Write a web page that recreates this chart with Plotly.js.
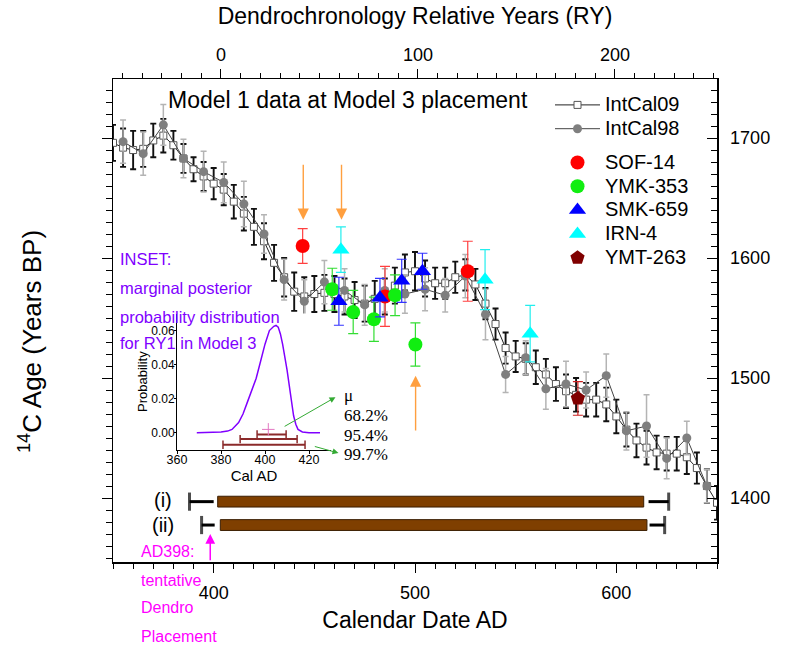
<!DOCTYPE html>
<html><head><meta charset="utf-8">
<script src="https://cdn.plot.ly/plotly-3.0.1.min.js"></script>
<style>html,body{margin:0;padding:0;background:#fff}#chart{width:794px;height:650px}</style>
</head><body><div id="chart"></div>
<script>
// ---------- IntCal09 (5-yr grid) ----------
const intcal09AD = [350,355,360,365,370,375,380,385,390,395,400,405,410,415,420,425,430,435,440,445,450,455,460,465,470,475,480,485,490,495,500,505,510,515,520,525,530,535,540,545,550,555,560,565,570,575,580,585,590,595,600,605,610,615,620,625,630,635,640,645,650];
const intcal09BP = [1696,1692,1690,1691,1698,1702,1694,1683,1674,1668,1662,1657,1647,1637,1626,1614,1596,1584,1572,1568,1570,1571,1570,1568,1565,1562,1566,1568,1577,1588,1589,1583,1579,1579,1584,1586,1578,1562,1545,1525,1518,1516,1509,1503,1495,1489,1486,1482,1482,1478,1468,1457,1448,1442,1438,1437,1437,1434,1425,1410,1396];
const intcal09Err = [15,16,16,15,14,14,12,12,10,12,13,13,14,14,15,15,15,16,16,16,15,15,15,15,15,15,15,15,15,15,16,15,13,13,13,13,13,13,13,13,13,13,14,13,14,14,14,14,14,14,14,14,14,14,14,14,14,14,13,14,14];
// ---------- IntCal98 (decadal) ----------
const intcal98AD = [355,365,375,385,395,405,415,425,435,445,455,465,475,485,495,505,515,525,535,545,555,565,575,585,595,605,615,625,635,645];
const intcal98BP = [1697,1687,1711,1683,1672,1663,1645,1620,1582,1564,1580,1573,1561,1573,1570,1574,1569,1585,1553,1503,1517,1491,1495,1490,1502,1456,1460,1433,1450,1410];
const intcal98Err = [18,18,17,16,17,17,19,16,17,18,18,18,17,18,16,18,14,18,21,15,14,17,19,15,18,16,26,17,14,14];
// ---------- samples ----------
const sofAD = [444.2,485.1,526.2];           const sofBP = [1610,1568,1589];  const sofErr = [14.5,25,25];
const ymkAD = [458.9,469.3,479.6,490.1,500.2]; const ymkBP = [1574,1555,1549,1569,1528]; const ymkErr = [17.5,18,18.5,17,18];
const smkAD = [462.2,482.6,493.4,503.7];     const smkBP = [1564,1567,1581,1589]; const smkErr = [20,16,18,15];
const irnAD = [463.2,534.8,557.2];           const irnBP = [1607,1582,1537]; const irnErr = [19,25,23.5];
const ymtAD = [580.9];                       const ymtBP = [1483]; const ymtErr = [14];
// ---------- placement bars (i), (ii) ----------
const placeLabels = ['(i)','(ii)'];
const placeBP = [1397,1377.5];
const placeStart = [402,403.3];
const placeEnd = [613.6,615.2];
const whiskLoOuter = [388,394];
const whiskLoInner = [400,400.5];
const whiskHiInner = [616,616.5];
const whiskHiOuter = [626,624];
// ---------- inset: marginal posterior for RY1 ----------
const postAD =   [369,375,380,383,385,388,390,392,394,396,398,400,402,404,405,406,407,408,410,412,413,414,415,417,420,425];
const postProb = [0,0.0002,0.0005,0.001,0.002,0.006,0.011,0.018,0.025,0.032,0.042,0.052,0.060,0.0625,0.063,0.062,0.058,0.052,0.037,0.018,0.010,0.005,0.002,0.0005,0.0001,0];
const ciLabels = ['68.2%','95.4%','99.7%'];
const ciLo = [396.4,388.7,380.9];
const ciHi = [409.6,414.6,418.2];
const ciY = [-0.001,-0.0037,-0.007];
const meanAD = [401.5]; const meanY = [0.002];
// ---------- arrows (AD, BP) ----------
const orangeX = [444.5,463.5,500.3];
const orangeHeadY = [1632,1632,1502];
const orangeTailY = [1679,1679,1455];
// top (RY) axis range as drawn
const ryRange = [-54.8, 251.8];

const FONT = 'Liberation Sans, Arial, sans-serif';
const L = 113, T = 79, W = 604, H = 483;
const px = x => (x - L) / W;
const py = y => (T + H - y) / H;
const big = s => '<span style="font-size:20px">' + s + '</span>';

const traces = [];
traces.push({x:intcal09AD, y:intcal09BP, name:big('IntCal09'), type:'scatter', mode:'lines+markers',
  legendgroup:'cal', line:{color:'#222', width:1},
  marker:{symbol:'square', size:7, color:'#fff', line:{color:'#555', width:1}},
  error_y:{type:'data', array:intcal09Err, color:'#111', thickness:1.9, width:3}});
traces.push({x:intcal98AD, y:intcal98BP, name:big('IntCal98'), type:'scatter', mode:'lines+markers',
  legendgroup:'cal', line:{color:'#444', width:1},
  marker:{symbol:'circle', size:9, color:'#7f7f7f'},
  error_y:{type:'data', array:intcal98Err, color:'#b4b4b4', thickness:1.5, width:3}});
function sample(name, xs, ys, es, sym, col, ecol, size){
  return {x:xs, y:ys, name:big(name), type:'scatter', mode:'markers', legendgroup:'samp',
    marker:{symbol:sym, size:size, color:col},
    error_y:{type:'data', array:es, color:ecol, thickness:1.2, width:5}};
}
traces.push(sample('SOF-14', sofAD, sofBP, sofErr, 'circle', '#ff0000', '#ff4040', 14));
traces.push(sample('YMK-353', ymkAD, ymkBP, ymkErr, 'circle', '#11ee11', '#33dd33', 14));
traces.push(sample('SMK-659', smkAD, smkBP, smkErr, 'triangle-up', '#0000ff', '#3333ff', 15));
traces.push(sample('IRN-4', irnAD, irnBP, irnErr, 'triangle-up', '#00ffff', '#22eeee', 15));
traces.push(sample('YMT-263', ymtAD, ymtBP, ymtErr, 'pentagon', '#800000', '#cc2222', 15));
// placement bars
traces.push({type:'bar', orientation:'h', y:placeBP, x:placeEnd.map((e,i)=>e-placeStart[i]), base:placeStart,
  width:9, marker:{color:'#7f3f00', line:{color:'#3a1d00', width:1}}, showlegend:false, hoverinfo:'skip'});
for (let i=0;i<placeBP.length;i++){
  traces.push({type:'scatter', mode:'lines+markers', showlegend:false,
    x:[whiskLoOuter[i], whiskLoInner[i], null, whiskHiInner[i], whiskHiOuter[i]],
    y:[placeBP[i], placeBP[i], null, placeBP[i], placeBP[i]],
    line:{color:'#000', width:3}, marker:{symbol:'line-ns-open', size:[13,0,0,0,13], color:'#000', line:{width:3, color:'#000'}}});
}
// top axis / right axis holders and inset traces
traces.push({x:[], y:[], xaxis:'x2', yaxis:'y', showlegend:false, type:'scatter'});
traces.push({x:[], y:[], xaxis:'x', yaxis:'y2', showlegend:false, type:'scatter'});
traces.push({x:postAD, y:postProb, xaxis:'x3', yaxis:'y3', type:'scatter', mode:'lines',
  line:{color:'#8000ff', width:1.5}, showlegend:false});
for (let i=0;i<ciLo.length;i++){
  traces.push({x:[ciLo[i], ciHi[i]], y:[ciY[i], ciY[i]], xaxis:'x3', yaxis:'y3', type:'scatter', mode:'lines+markers',
    line:{color:'#8b2a2a', width:2}, marker:{symbol:'line-ns-open', size:6, line:{color:'#8b2a2a', width:1.5}},
    showlegend:false});
}
traces.push({x:meanAD, y:meanY, xaxis:'x3', yaxis:'y3', type:'scatter', mode:'markers',
  marker:{symbol:'cross-thin-open', size:9, line:{color:'#b04040', width:1}}, showlegend:false});

const ann = [];
function txt(text, x, y, size, color, xanchor, family){
  ann.push({text:text, xref:'paper', yref:'paper', x:px(x), y:py(y), xanchor:xanchor||'center', yanchor:'middle',
    showarrow:false, font:{size:size, color:color||'#000', family:family||FONT}});
}
txt('Model 1 data at Model 3 placement', 347.5, 100, 23);
['INSET:','marginal posterior','probability distribution','for RY1 in Model 3'].forEach((s,i)=>
  txt(s, 118, [259,288,317,343][i], 16.5, '#8000ff', 'left'));
['\u03bc'].concat(ciLabels).forEach((s,i)=>txt(s, 342, [395,415,435,454][i], 17, '#000', 'left', 'Liberation Serif, Times New Roman, serif'));
placeLabels.forEach((s,i)=>txt(s, 163, [500,525][i], 20));
['AD398:','tentative','Dendro','Placement'].forEach((s,i)=>txt(s, 139, [551,580,607,636][i], 16, '#ff00ff', 'left'));
// y-axis title (left side)
ann.push({text:'<sup>14</sup>C Age (Years BP)', xref:'paper', yref:'paper', x:px(30), y:py(342), textangle:-90,
  xanchor:'center', yanchor:'middle', showarrow:false, font:{size:26, family:FONT, color:'#000'}});
for (let i=0;i<orangeX.length;i++){
  ann.push({x:orangeX[i], y:orangeHeadY[i], ax:orangeX[i], ay:orangeTailY[i], xref:'x', yref:'y', axref:'x', ayref:'y',
    text:'', showarrow:true, arrowhead:2, arrowsize:1.6, arrowwidth:1.4, arrowcolor:'rgba(255,128,0,0.75)'});
}
ann.push({x:460.5, y:1484, ax:434.5, ay:1459, xref:'x', yref:'y', axref:'x', ayref:'y', text:'', showarrow:true,
  arrowhead:2, arrowsize:1.2, arrowwidth:1, arrowcolor:'#33aa33'});
ann.push({x:462, y:1437.5, ax:449.5, ay:1443.3, xref:'x', yref:'y', axref:'x', ayref:'y', text:'', showarrow:true,
  arrowhead:2, arrowsize:1.2, arrowwidth:1, arrowcolor:'#33aa33'});
ann.push({x:398.3, y:1370, ax:398.3, ay:1347, xref:'x', yref:'y', axref:'x', ayref:'y', text:'', showarrow:true,
  arrowhead:2, arrowsize:1.3, arrowwidth:1.5, arrowcolor:'#ff00ff'});

const axBase = {showgrid:false, zeroline:false, showline:true, linecolor:'#000', linewidth:1.5, tickcolor:'#000',
  tickfont:{size:18, family:FONT, color:'#000'}};
const yr = [1346.7, 1749.2];
const layout = {
  width:794, height:650, margin:{l:L, r:794-L-W, t:T, b:650-T-H},
  paper_bgcolor:'#fff', plot_bgcolor:'#fff', font:{family:FONT, color:'#000'},
  showlegend:true,
  legend:{x:px(550), y:py(88), xanchor:'left', yanchor:'top', bgcolor:'rgba(0,0,0,0)',
    font:{size:16, family:FONT}, traceorder:'grouped', tracegroupgap:10, itemsizing:'trace', itemwidth:45},
  xaxis:Object.assign({}, axBase, {range:[350,650], tick0:0, dtick:100, ticks:'outside', ticklen:9,
    minor:{dtick:10, ticklen:5, ticks:'outside', tickcolor:'#000'}, ticklabelstandoff:5,
    title:{text:'Calendar Date AD', font:{size:23, family:FONT}, standoff:10}}),
  xaxis2:Object.assign({}, axBase, {overlaying:'x', side:'top', anchor:'y', range:ryRange,
    tick0:0, dtick:100, ticks:'outside', ticklen:9, minor:{dtick:10, ticklen:5, ticks:'outside', tickcolor:'#000'},
    title:{text:'Dendrochronology Relative Years (RY)', font:{size:23, family:FONT}, standoff:14}}),
  yaxis:Object.assign({}, axBase, {range:yr, tick0:0, dtick:100, ticks:'outside', ticklen:10, showticklabels:false,
    minor:{dtick:10, ticklen:6, ticks:'outside', tickcolor:'#000'}}),
  yaxis2:Object.assign({}, axBase, {overlaying:'y', side:'right', anchor:'x', range:yr, tick0:0, dtick:100,
    ticks:'inside', ticklen:10, minor:{dtick:10, ticklen:6, ticks:'inside', tickcolor:'#000'}, ticklabelstandoff:8}),
  xaxis3:{domain:[px(177), px(331)], anchor:'y3', range:[360,430], dtick:20, showgrid:false, zeroline:false,
    showline:true, linecolor:'#000', linewidth:1, ticks:'outside', ticklen:3, tickcolor:'#000',
    tickfont:{size:12.5, family:FONT}, ticklabelstandoff:-5, title:{text:'Cal AD', font:{size:15, family:FONT}, standoff:0}},
  yaxis3:{domain:[py(449.85), py(313.5)], anchor:'x3', range:[-0.01,0.07], dtick:0.02, tickformat:'.2f',
    showgrid:false, zeroline:false, showline:true, linecolor:'#000', linewidth:1, ticks:'outside', ticklen:2,
    tickcolor:'#000', tickfont:{size:12, family:FONT}, ticklabelstandoff:-3,
    title:{text:'Probability', font:{size:13, family:FONT}, standoff:0}},
  annotations:ann
};
Plotly.newPlot('chart', traces, layout, {displayModeBar:false, staticPlot:true});
</script></body></html>
